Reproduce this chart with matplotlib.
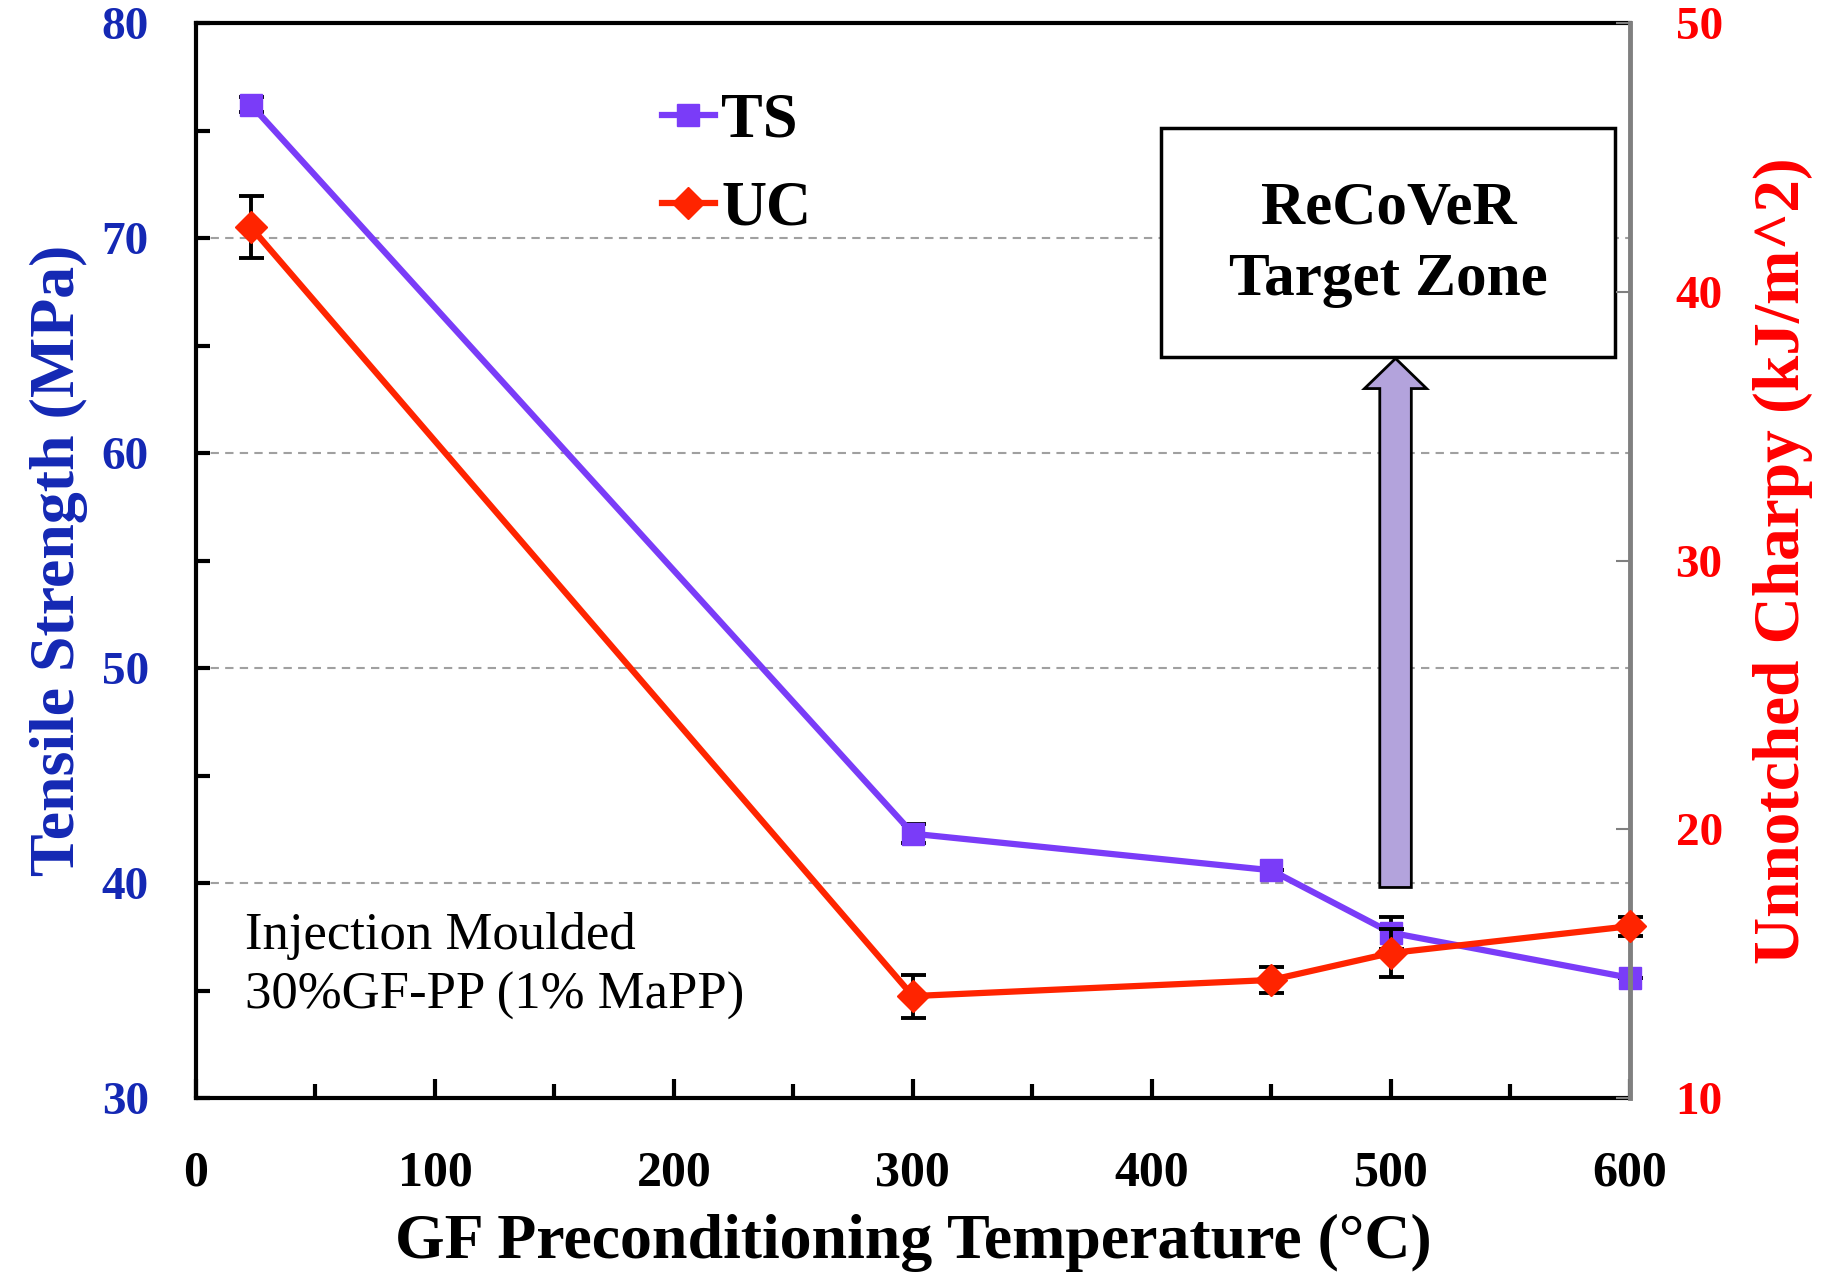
import matplotlib
matplotlib.use('Agg')
import matplotlib.pyplot as plt
from matplotlib.patches import Rectangle, FancyArrow
from matplotlib.ticker import MultipleLocator

plt.rcParams['font.family'] = ['Liberation Serif', 'DejaVu Serif']

# data
temp = [23, 300, 450, 500, 600]
ts = [76.2, 42.3, 40.6, 37.7, 35.6]
ts_err = [0.35, 0.45, 0.0, 0.75, 0.0]
uc = [42.4, 13.8, 14.4, 15.4, 16.4]
uc_err = [1.15, 0.8, 0.5, 0.9, 0.35]

ts_col = '#7A3CF8'
uc_col = '#FF2400'
blue = '#1428B4'
red = '#FF0000'

fig = plt.figure(figsize=(18.25, 12.77), dpi=100)
ax = fig.add_axes([0.1074, 0.140, 0.7856, 0.842])
ax2 = ax.twinx()

ax.set_xlim(0, 600)
ax.set_ylim(30, 80)
ax2.set_ylim(10, 50)

# error bars under the markers
ax.errorbar(temp, ts, yerr=ts_err, fmt='none', ecolor='black', elinewidth=2.8,
            capsize=9, capthick=2.8, zorder=3, clip_on=False)
l1, = ax.plot(temp, ts, color=ts_col, lw=4.5, marker='s', ms=16, mec=ts_col,
              label='TS', zorder=4, clip_on=False)
ax2.errorbar(temp, uc, yerr=uc_err, fmt='none', ecolor='black', elinewidth=2.8,
             capsize=9, capthick=2.8, zorder=3, clip_on=False)
l2, = ax2.plot(temp, uc, color=uc_col, lw=4.5, marker='D', ms=16, mec=uc_col,
               label='UC', zorder=4, clip_on=False)

# grid
ax.yaxis.set_major_locator(MultipleLocator(10))
ax.yaxis.set_minor_locator(MultipleLocator(5))
ax.grid(axis='y', which='major', color='#A0A0A0', ls=(0, (4, 3)), lw=1.5)
ax.set_axisbelow(True)

ax.xaxis.set_major_locator(MultipleLocator(100))
ax.xaxis.set_minor_locator(MultipleLocator(50))
ax2.yaxis.set_major_locator(MultipleLocator(10))

for s in ['left', 'bottom', 'top']:
    ax.spines[s].set_linewidth(3)
    ax.spines[s].set_color('black')
ax.spines['right'].set_visible(False)
for s in ['left', 'bottom', 'top']:
    ax2.spines[s].set_visible(False)
ax2.spines['right'].set_color('#808080')
ax2.spines['right'].set_linewidth(3.5)

ax.tick_params(axis='x', which='major', direction='in', length=14, width=3,
               pad=38, labelsize=36)
ax.tick_params(axis='x', which='minor', direction='in', length=10, width=3)
ax.tick_params(axis='y', which='both', direction='in', length=10, width=3,
               pad=34, labelsize=34, labelcolor=blue)
ax2.tick_params(axis='y', direction='in', length=10, width=1.5, color='#808080',
                pad=33, labelsize=34, labelcolor=red)
for lab in ax.get_xticklabels() + ax.get_yticklabels() + ax2.get_yticklabels():
    lab.set_fontweight('bold')

ax.set_xlabel('GF Preconditioning Temperature (°C)', fontsize=46,
              fontweight='bold', labelpad=12)
ax.set_ylabel('Tensile Strength (MPa)', fontsize=46, fontweight='bold',
              color=blue, labelpad=10)
ax2.set_ylabel('Unnotched Charpy (kJ/m^2)', fontsize=47, fontweight='bold',
               color=red, labelpad=22)

# target zone box and arrow
ax.add_patch(Rectangle((404, 64.45), 190, 10.65, facecolor='white',
                       edgecolor='black', lw=2.5, zorder=5))
ax.text(499, 69.7, 'ReCoVeR\nTarget Zone', ha='center', va='center',
        fontsize=44, fontweight='bold', linespacing=1.36, zorder=6)
ax.add_patch(FancyArrow(502, 39.8, 0, 24.6, width=13.2, head_width=26,
                        head_length=1.4, length_includes_head=True,
                        facecolor='#B3A3DC', edgecolor='black', lw=2, zorder=5))

ax.text(20.5, 36.15, 'Injection Moulded\n30%GF-PP (1% MaPP)', ha='left',
        va='center', fontsize=38, linespacing=1.32, zorder=6)

leg = ax2.legend(handles=[l1, l2], loc='upper left',
                 bbox_to_anchor=(0.349, 0.947), bbox_transform=fig.transFigure,
                 frameon=False, handlelength=0.85, handletextpad=0.1,
                 labelspacing=0.48, borderaxespad=0,
                 prop={'size': 45, 'weight': 'bold'})

fig.savefig('out.png', dpi=100)
